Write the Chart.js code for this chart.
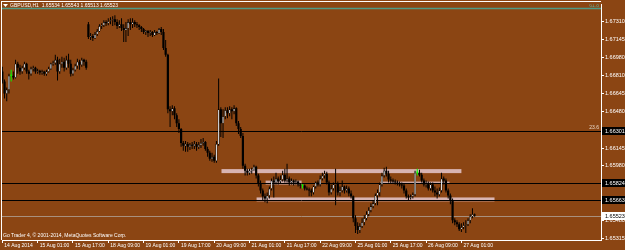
<!DOCTYPE html>
<html><head><meta charset="utf-8">
<script src="https://cdn.jsdelivr.net/npm/chart.js@4.4.1/dist/chart.umd.min.js"></script>
<style>html,body{margin:0;padding:0;background:#8B4513;overflow:hidden}canvas{display:block}</style>
</head><body>
<canvas id="c" width="625" height="250"></canvas>
<script>
const symbolTitle = 'GBPUSD,H1  1.65534 1.65543 1.65513 1.65523';
const copyright = 'Go Trader 4, \u00a9 2001-2014, MetaQuotes Software Corp.';
const tickBars = [0,16,32,48,64,80,96,112,128,144,160,176,192,208];
const tickLabels = ['14 Aug 2014','15 Aug 01:00','15 Aug 17:00','18 Aug 09:00','19 Aug 01:00','19 Aug 17:00','20 Aug 09:00','21 Aug 01:00','21 Aug 17:00','22 Aug 09:00','25 Aug 01:00','25 Aug 17:00','26 Aug 09:00','27 Aug 01:00'];
const priceTicks = [1.67310,1.67145,1.66980,1.66810,1.66645,1.66480,1.66310,1.66145,1.65980,1.65810,1.65645,1.65480,1.65315];

const opens = [
1.66849,1.66757,1.66648,1.66684,1.66812,1.66812,1.66794,1.66922,1.66885,1.66849,
1.66885,1.66922,1.66849,1.66830,1.66876,1.66885,1.66849,1.66858,1.66840,1.66849,
1.66830,1.66849,1.66876,1.66922,1.66931,1.66958,1.66849,1.66922,1.66940,1.66885,
1.66958,1.66922,1.66830,1.66867,1.66903,1.66940,1.66912,1.66958,1.66940,1.67286,
1.67168,1.67177,1.67159,1.67195,1.67222,1.67268,1.67277,1.67305,1.67295,1.67314,
1.67323,1.67332,1.67305,1.67268,1.67286,1.67250,1.67232,1.67250,1.67305,1.67286,
1.67305,1.67286,1.67277,1.67259,1.67241,1.67213,1.67222,1.67204,1.67213,1.67186,
1.67213,1.67204,1.67241,1.67213,1.67067,1.67004,1.66502,1.66484,1.66511,1.66447,
1.66374,1.66320,1.66192,1.66165,1.66183,1.66156,1.66174,1.66165,1.66183,1.66156,
1.66174,1.66192,1.66201,1.66137,1.66101,1.66046,1.66064,1.66028,1.66183,1.66502,
1.66374,1.66438,1.66493,1.66466,1.66502,1.66484,1.66511,1.66374,1.66320,1.66256,
1.65982,1.65937,1.65918,1.65937,1.65946,1.65973,1.65891,1.65818,1.65754,1.65700,
1.65681,1.65709,1.65772,1.65845,1.65827,1.65864,1.65836,1.65855,1.65900,1.65845,
1.65864,1.65827,1.65845,1.65827,1.65836,1.65809,1.65800,1.65800,1.65772,1.65763,
1.65754,1.65736,1.65791,1.65827,1.65809,1.65864,1.65891,1.65909,1.65827,1.65736,
1.65772,1.65809,1.65818,1.65736,1.65754,1.65791,1.65754,1.65772,1.65727,1.65700,
1.65499,1.65426,1.65389,1.65426,1.65462,1.65499,1.65535,1.65572,1.65608,1.65636,
1.65709,1.65736,1.65809,1.65891,1.65937,1.65909,1.65855,1.65845,1.65836,1.65827,
1.65818,1.65809,1.65800,1.65754,1.65700,1.65690,1.65700,1.65718,1.65918,1.65918,
1.65900,1.65845,1.65809,1.65818,1.65772,1.65809,1.65754,1.65736,1.65718,1.65754,
1.65864,1.65845,1.65754,1.65709,1.65663,1.65481,1.65462,1.65444,1.65398,1.65417,
1.65435,1.65444,1.65481,1.65517,1.65534];
const highs = [
1.66894,1.66776,1.66703,1.66830,1.66867,1.66849,1.66958,1.66940,1.66912,1.66903,
1.66940,1.66931,1.66867,1.66894,1.66903,1.66894,1.66876,1.66867,1.66867,1.66858,
1.66867,1.66894,1.66931,1.66949,1.67004,1.66985,1.66967,1.66985,1.66976,1.66994,
1.67013,1.66958,1.66885,1.66922,1.66967,1.66958,1.66976,1.66967,1.66958,1.67305,
1.67204,1.67195,1.67213,1.67241,1.67286,1.67295,1.67323,1.67323,1.67341,1.67350,
1.67359,1.67368,1.67332,1.67323,1.67341,1.67286,1.67305,1.67332,1.67341,1.67341,
1.67323,1.67305,1.67286,1.67268,1.67250,1.67232,1.67232,1.67232,1.67222,1.67232,
1.67222,1.67250,1.67259,1.67241,1.67140,1.67013,1.66529,1.66539,1.66529,1.66466,
1.66411,1.66329,1.66210,1.66210,1.66201,1.66192,1.66201,1.66210,1.66201,1.66201,
1.66228,1.66238,1.66210,1.66156,1.66119,1.66101,1.66083,1.66210,1.66785,1.66520,
1.66502,1.66520,1.66520,1.66529,1.66520,1.66539,1.66520,1.66393,1.66338,1.66283,
1.66000,1.65955,1.65955,1.65964,1.65991,1.65982,1.65909,1.65845,1.65772,1.65727,
1.65736,1.65791,1.65864,1.65882,1.65918,1.65882,1.65891,1.65937,1.65955,1.66000,
1.65882,1.65864,1.65855,1.65855,1.65845,1.65818,1.65809,1.65809,1.65791,1.65782,
1.65772,1.65800,1.65836,1.65845,1.65891,1.65918,1.65937,1.65927,1.65845,1.65809,
1.65827,1.65955,1.65836,1.65791,1.65845,1.65800,1.65800,1.65791,1.65754,1.65709,
1.65526,1.65462,1.65453,1.65499,1.65526,1.65563,1.65599,1.65636,1.65663,1.65727,
1.65763,1.65827,1.65918,1.65964,1.65973,1.65937,1.65882,1.65864,1.65855,1.65845,
1.65836,1.65827,1.65818,1.65772,1.65718,1.65718,1.65736,1.65937,1.65955,1.65946,
1.65918,1.65864,1.65845,1.65836,1.65827,1.65827,1.65791,1.65772,1.65782,1.65918,
1.65882,1.65864,1.65772,1.65727,1.65681,1.65499,1.65481,1.65462,1.65453,1.65462,
1.65481,1.65499,1.65535,1.65590,1.65543];
const lows = [
1.66739,1.66602,1.66575,1.66648,1.66757,1.66776,1.66785,1.66830,1.66821,1.66830,
1.66867,1.66830,1.66776,1.66812,1.66849,1.66830,1.66830,1.66821,1.66821,1.66812,
1.66812,1.66840,1.66867,1.66903,1.66912,1.66767,1.66830,1.66885,1.66849,1.66867,
1.66885,1.66803,1.66812,1.66849,1.66876,1.66867,1.66894,1.66903,1.66867,1.67150,
1.67140,1.67131,1.67150,1.67177,1.67213,1.67241,1.67259,1.67268,1.67277,1.67286,
1.67268,1.67277,1.67241,1.67250,1.67222,1.67122,1.67122,1.67177,1.67232,1.67250,
1.67259,1.67250,1.67232,1.67213,1.67195,1.67186,1.67168,1.67177,1.67168,1.67177,
1.67186,1.67195,1.67186,1.67049,1.66985,1.66466,1.66338,1.66447,1.66411,1.66338,
1.66283,1.66156,1.66119,1.66110,1.66110,1.66128,1.66137,1.66137,1.66119,1.66137,
1.66146,1.66165,1.66119,1.66064,1.66028,1.66019,1.66010,1.66010,1.66165,1.66247,
1.66238,1.66411,1.66420,1.66438,1.66411,1.66456,1.66347,1.66274,1.66238,1.65955,
1.65891,1.65891,1.65900,1.65909,1.65937,1.65864,1.65791,1.65727,1.65663,1.65645,
1.65636,1.65681,1.65754,1.65690,1.65809,1.65809,1.65818,1.65836,1.65827,1.65827,
1.65800,1.65809,1.65800,1.65809,1.65791,1.65772,1.65772,1.65754,1.65754,1.65700,
1.65700,1.65718,1.65772,1.65791,1.65791,1.65845,1.65864,1.65809,1.65709,1.65718,
1.65754,1.65617,1.65709,1.65700,1.65736,1.65727,1.65736,1.65700,1.65681,1.65462,
1.65362,1.65353,1.65362,1.65408,1.65435,1.65481,1.65517,1.65554,1.65590,1.65617,
1.65617,1.65700,1.65791,1.65873,1.65882,1.65827,1.65818,1.65818,1.65809,1.65800,
1.65791,1.65772,1.65727,1.65681,1.65663,1.65672,1.65681,1.65700,1.65891,1.65882,
1.65827,1.65791,1.65782,1.65754,1.65754,1.65736,1.65700,1.65681,1.65700,1.65736,
1.65809,1.65736,1.65681,1.65627,1.65453,1.65435,1.65417,1.65380,1.65371,1.65398,
1.65362,1.65426,1.65453,1.65499,1.65513];
const closes = [
1.66757,1.66648,1.66684,1.66812,1.66812,1.66794,1.66922,1.66885,1.66849,1.66885,
1.66922,1.66849,1.66830,1.66876,1.66885,1.66849,1.66858,1.66840,1.66849,1.66830,
1.66849,1.66876,1.66922,1.66931,1.66958,1.66849,1.66922,1.66940,1.66885,1.66958,
1.66922,1.66830,1.66867,1.66903,1.66940,1.66912,1.66958,1.66940,1.66885,1.67168,
1.67177,1.67159,1.67195,1.67222,1.67268,1.67277,1.67305,1.67295,1.67314,1.67323,
1.67332,1.67305,1.67268,1.67286,1.67250,1.67232,1.67250,1.67305,1.67286,1.67305,
1.67286,1.67277,1.67259,1.67241,1.67213,1.67222,1.67204,1.67213,1.67186,1.67213,
1.67204,1.67241,1.67213,1.67067,1.67004,1.66502,1.66484,1.66511,1.66447,1.66374,
1.66320,1.66192,1.66165,1.66183,1.66156,1.66174,1.66165,1.66183,1.66156,1.66174,
1.66192,1.66201,1.66137,1.66101,1.66046,1.66064,1.66028,1.66183,1.66502,1.66374,
1.66438,1.66493,1.66466,1.66502,1.66484,1.66511,1.66374,1.66320,1.66256,1.65982,
1.65937,1.65918,1.65937,1.65946,1.65973,1.65891,1.65818,1.65754,1.65700,1.65681,
1.65709,1.65772,1.65845,1.65827,1.65864,1.65836,1.65855,1.65900,1.65845,1.65864,
1.65827,1.65845,1.65827,1.65836,1.65809,1.65800,1.65800,1.65772,1.65763,1.65754,
1.65736,1.65791,1.65827,1.65809,1.65864,1.65891,1.65909,1.65827,1.65736,1.65772,
1.65809,1.65818,1.65736,1.65754,1.65791,1.65754,1.65772,1.65727,1.65700,1.65499,
1.65426,1.65389,1.65426,1.65462,1.65499,1.65535,1.65572,1.65608,1.65636,1.65709,
1.65736,1.65809,1.65891,1.65937,1.65909,1.65855,1.65845,1.65836,1.65827,1.65818,
1.65809,1.65800,1.65754,1.65700,1.65690,1.65700,1.65718,1.65918,1.65918,1.65900,
1.65845,1.65809,1.65818,1.65772,1.65809,1.65754,1.65736,1.65718,1.65754,1.65864,
1.65845,1.65754,1.65709,1.65663,1.65481,1.65462,1.65444,1.65398,1.65417,1.65435,
1.65444,1.65481,1.65517,1.65535,1.65523];

// horizontal lines and objects on the chart
const levelPrices = [1.66301, 1.65824, 1.65663];
const fiboPrice = 1.67432;
const fiboLabels = ['61.8', '23.6'];
const fiboLabelPrices = [1.67432, 1.66301];
const currentPrice = 1.65523;
const rectFrom = [99.3, 115.2, 119.3, 171.3];
const rectTo   = [208.0, 223.0, 135.6, 202.6];
const rectHigh = [1.65951, 1.65690, 1.65845, 1.65836];
const rectLow  = [1.65914, 1.65654, 1.65809, 1.65818];

const BG = '#8B4513';
const FONT = '"Liberation Sans", Arial, sans-serif';

const dir = i => closes[i] > opens[i] ? 1 : (closes[i] < opens[i] ? -1 : 0);
const wickData = closes.map((c, i) => ({x: i, y: [lows[i], highs[i]]}));
const bodyData = closes.map((c, i) => ({x: i, y: [opens[i], c]}));

const bgPlugin = {
  id: 'bg',
  beforeDraw(chart) {
    const c = chart.ctx; c.save(); c.fillStyle = BG; c.fillRect(0, 0, chart.width, chart.height); c.restore();
  }
};

const overlay = {
  id: 'overlay',
  beforeDatasetsDraw(chart) {
    const {ctx, chartArea: a, scales: {x, y}} = chart;
    ctx.save();
    ctx.beginPath(); ctx.rect(a.left, a.top, a.right - a.left, a.bottom - a.top); ctx.clip();
    for (let k = 0; k < rectFrom.length; k++) {
      const x0 = x.getPixelForValue(rectFrom[k]), x1 = x.getPixelForValue(rectTo[k]);
      const y0 = y.getPixelForValue(rectHigh[k]), y1 = y.getPixelForValue(rectLow[k]);
      ctx.fillStyle = k < 2 ? '#d8b4b2' : '#cfa9a4';
      ctx.fillRect(x0, y0, x1 - x0, y1 - y0);
    }
    ctx.lineWidth = 1;
    let py = Math.round(y.getPixelForValue(currentPrice)) + 0.5;
    ctx.strokeStyle = '#a8907e';
    ctx.beginPath(); ctx.moveTo(a.left, py); ctx.lineTo(a.right, py); ctx.stroke();
    ctx.strokeStyle = '#000';
    levelPrices.forEach(p => {
      const yy = Math.round(y.getPixelForValue(p)) + 0.5;
      ctx.beginPath(); ctx.moveTo(a.left, yy); ctx.lineTo(a.right, yy); ctx.stroke();
    });
    py = Math.round(y.getPixelForValue(fiboPrice)) + 0.5;
    ctx.strokeStyle = '#4f9a86';
    ctx.lineWidth = 1.5;
    ctx.beginPath(); ctx.moveTo(a.left, py); ctx.lineTo(a.right, py); ctx.stroke();
    ctx.font = '5px ' + FONT;
    ctx.textAlign = 'right'; ctx.textBaseline = 'bottom';
    fiboLabels.forEach((t, k) => {
      const yy = y.getPixelForValue(fiboLabelPrices[k]);
      ctx.fillStyle = k === 0 ? '#5fae98' : '#e8d8c8';
      ctx.fillText(t, a.right - 2, yy - 0.5);
    });
    ctx.restore();
  },
  afterDraw(chart) {
    const {ctx, chartArea: a, scales: {y}} = chart;
    ctx.save();
    ctx.strokeStyle = '#fff'; ctx.lineWidth = 1;
    ctx.beginPath(); ctx.moveTo(1, 1.5); ctx.lineTo(a.right, 1.5); ctx.stroke();
    ctx.beginPath(); ctx.moveTo(1.5, 1); ctx.lineTo(1.5, a.bottom); ctx.stroke();
    ctx.fillStyle = '#fff';
    ctx.beginPath(); ctx.moveTo(3, 4); ctx.lineTo(8, 4); ctx.lineTo(5.5, 7); ctx.closePath(); ctx.fill();
    ctx.font = '5px ' + FONT; ctx.textAlign = 'left'; ctx.textBaseline = 'middle';
    ctx.fillText(symbolTitle, 10, 5.5);
    ctx.fillText(copyright, 3, 235.5);
    ctx.font = '5.5px ' + FONT;
    levelPrices.forEach(p => {
      const yy = Math.round(y.getPixelForValue(p));
      ctx.fillStyle = '#000'; ctx.fillRect(a.right + 1, yy - 4, 625 - a.right - 1, 8);
      ctx.fillStyle = '#fff'; ctx.fillText(p.toFixed(5), a.right + 4, yy + 0.5);
    });
    const cy = Math.round(y.getPixelForValue(currentPrice));
    ctx.fillStyle = '#fff'; ctx.fillRect(a.right + 1, cy - 4, 625 - a.right - 1, 8);
    ctx.fillStyle = '#000'; ctx.fillText(currentPrice.toFixed(5), a.right + 4, cy + 0.5);
    ctx.restore();
  }
};

new Chart(document.getElementById('c'), {
  type: 'bar',
  data: {
    datasets: [
      {data: bodyData, order: 1, grouped: false, barThickness: 2.2, minBarLength: 1, inflateAmount: 0,
       borderWidth: c => dir(c.dataIndex) > 0 ? 0.6 : 0,
       borderColor: '#000',
       backgroundColor: c => { const d = dir(c.dataIndex); return d > 0 ? '#e4e8ec' : (d < 0 ? '#000' : '#00ff00'); }},
      {data: wickData, order: 2, grouped: false, barThickness: 1, borderWidth: 0, inflateAmount: 0,
       backgroundColor: c => dir(c.dataIndex) === 0 ? '#00ff00' : '#000'}
    ]
  },
  options: {
    animation: false, responsive: false, events: [],
    layout: {padding: {left: 2, top: 2, right: 0, bottom: 0}},
    plugins: {legend: {display: false}, tooltip: {enabled: false}},
    scales: {
      x: {
        type: 'linear', min: -0.15, max: 271.25, offset: false,
        afterBuildTicks: s => { s.ticks = tickBars.map(v => ({value: v})); },
        afterFit: s => { s.height = 10; },
        grid: {display: true, offset: false, drawOnChartArea: false, drawTicks: true, tickLength: 3, color: '#fff'},
        border: {display: true, color: '#fff', width: 1},
        ticks: {autoSkip: false, maxRotation: 0, minRotation: 0, align: 'start', labelOffset: 2, padding: 0,
                color: '#fff', font: {family: FONT, size: 5}, callback: (v, i) => tickLabels[i]}
      },
      y: {
        position: 'right', min: 1.65298, max: 1.67469,
        afterBuildTicks: s => { s.ticks = priceTicks.map(v => ({value: v})); },
        afterFit: s => { s.width = 24; },
        grid: {drawOnChartArea: false, drawTicks: true, tickLength: 3, color: '#fff'},
        border: {display: true, color: '#fff', width: 1},
        ticks: {autoSkip: false, padding: 1, color: '#fff', font: {family: FONT, size: 5.5}, callback: v => v.toFixed(5)}
      }
    }
  },
  plugins: [bgPlugin, overlay]
});
</script>
</body></html>
